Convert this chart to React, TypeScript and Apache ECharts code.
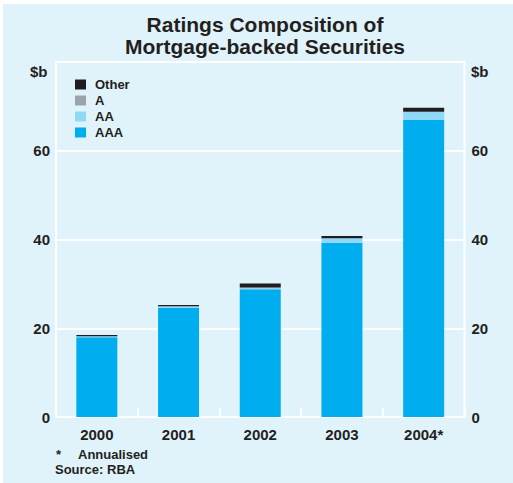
import React, { useEffect, useRef } from "react";
import * as echarts from "echarts";

// Issuance of mortgage-backed securities by rating, $ billion
const years = ["2000", "2001", "2002", "2003", "2004*"];
const aaa = [18.0, 24.6, 28.8, 39.2, 67.0];
const aa = [0.2, 0.3, 0.2, 1.1, 1.8];
const a = [0.0, 0.05, 0.2, 0.0, 0.0];
const other = [0.3, 0.3, 0.9, 0.5, 0.9];
const yTicks = [0, 20, 40, 60, 80];

const FONT = "'Liberation Sans', Arial, Helvetica, sans-serif";
const INK = "#231f20";
const PANEL = "#e0f3fb";

export default function App() {
  const ref = useRef<HTMLDivElement>(null);

  useEffect(() => {
    document.body.style.margin = "0";
    if (!ref.current) return;
    const chart = echarts.init(ref.current, undefined, { renderer: "svg" });

    const yMin = yTicks[0];
    const yMax = yTicks[yTicks.length - 1];
    const yStep = yTicks[1] - yTicks[0];

    const yAxisBase = (position: "left" | "right") => ({
      type: "value" as const,
      position,
      min: yMin,
      max: yMax,
      interval: yStep,
      axisLine: { show: false },
      axisTick: { show: false },
      axisLabel: {
        color: INK,
        fontFamily: FONT,
        fontWeight: "bold" as const,
        fontSize: 15,
        margin: position === "left" ? 6 : 7,
        formatter: (v: number) => (v === yMax ? "" : String(v)),
      },
      splitLine: {
        show: position === "left",
        lineStyle: { color: "#ffffff", width: 2 },
      },
    });

    const barSeries = (name: string, data: number[], color: string) => ({
      name,
      type: "bar" as const,
      stack: "total",
      data,
      barWidth: 41,
      itemStyle: { color },
      emphasis: { disabled: true },
    });

    chart.setOption({
      animation: false,
      backgroundColor: "transparent",
      title: {
        text: "Ratings Composition of\nMortgage-backed Securities",
        left: 257,
        top: 4,
        textAlign: "center",
        textStyle: {
          fontFamily: FONT,
          fontWeight: "bold",
          fontSize: 21,
          lineHeight: 22,
          color: INK,
        },
      },
      legend: {
        orient: "vertical",
        left: 72,
        top: 73,
        padding: 0,
        itemWidth: 11,
        itemHeight: 10,
        itemGap: 1,
        icon: "rect",
        data: ["Other", "A", "AA", "AAA"],
        textStyle: {
          fontFamily: FONT,
          fontWeight: "bold",
          fontSize: 13,
          lineHeight: 15,
          color: INK,
          padding: [0, 0, 0, 4],
        },
        selectedMode: false,
      },
      grid: {
        left: 53,
        right: 48.5,
        top: 58,
        bottom: 66,
        show: true,
        borderColor: "#ffffff",
        borderWidth: 2,
        backgroundColor: "transparent",
      },
      xAxis: {
        type: "category",
        data: years,
        axisLine: { show: true, lineStyle: { color: "#ffffff", width: 2 } },
        axisTick: {
          show: true,
          inside: true,
          length: 9,
          lineStyle: { color: "#ffffff", width: 2 },
        },
        axisLabel: {
          color: INK,
          fontFamily: FONT,
          fontWeight: "bold",
          fontSize: 15,
          margin: 10,
        },
        splitLine: { show: false },
      },
      yAxis: [yAxisBase("left"), yAxisBase("right")],
      series: [
        barSeries("AAA", aaa, "#00aeef"),
        barSeries("AA", aa, "#8fd8f6"),
        barSeries("A", a, "#9aa4ab"),
        barSeries("Other", other, "#1d1d22"),
      ],
      graphic: [
        {
          type: "text",
          left: 27,
          top: 60,
          style: {
            text: "$b",
            fill: INK,
            font: `bold 15px ${FONT}`,
          },
        },
        {
          type: "text",
          left: 468,
          top: 60,
          style: {
            text: "$b",
            fill: INK,
            font: `bold 15px ${FONT}`,
          },
        },
        {
          type: "text",
          left: 53,
          top: 444,
          style: { text: "*", fill: INK, font: `bold 13px ${FONT}` },
        },
        {
          type: "text",
          left: 75,
          top: 444,
          style: { text: "Annualised", fill: INK, font: `bold 13px ${FONT}` },
        },
        {
          type: "text",
          left: 52,
          top: 459,
          style: { text: "Source: RBA", fill: INK, font: `bold 13px ${FONT}` },
        },
      ],
    });

    return () => chart.dispose();
  }, []);

  return (
    <div
      style={{
        position: "relative",
        width: 513,
        height: 483,
        background: "#ffffff",
        overflow: "hidden",
      }}
    >
      <div
        ref={ref}
        style={{
          position: "absolute",
          left: 3,
          top: 4,
          width: 510,
          height: 479,
          background: PANEL,
        }}
      />
    </div>
  );
}
